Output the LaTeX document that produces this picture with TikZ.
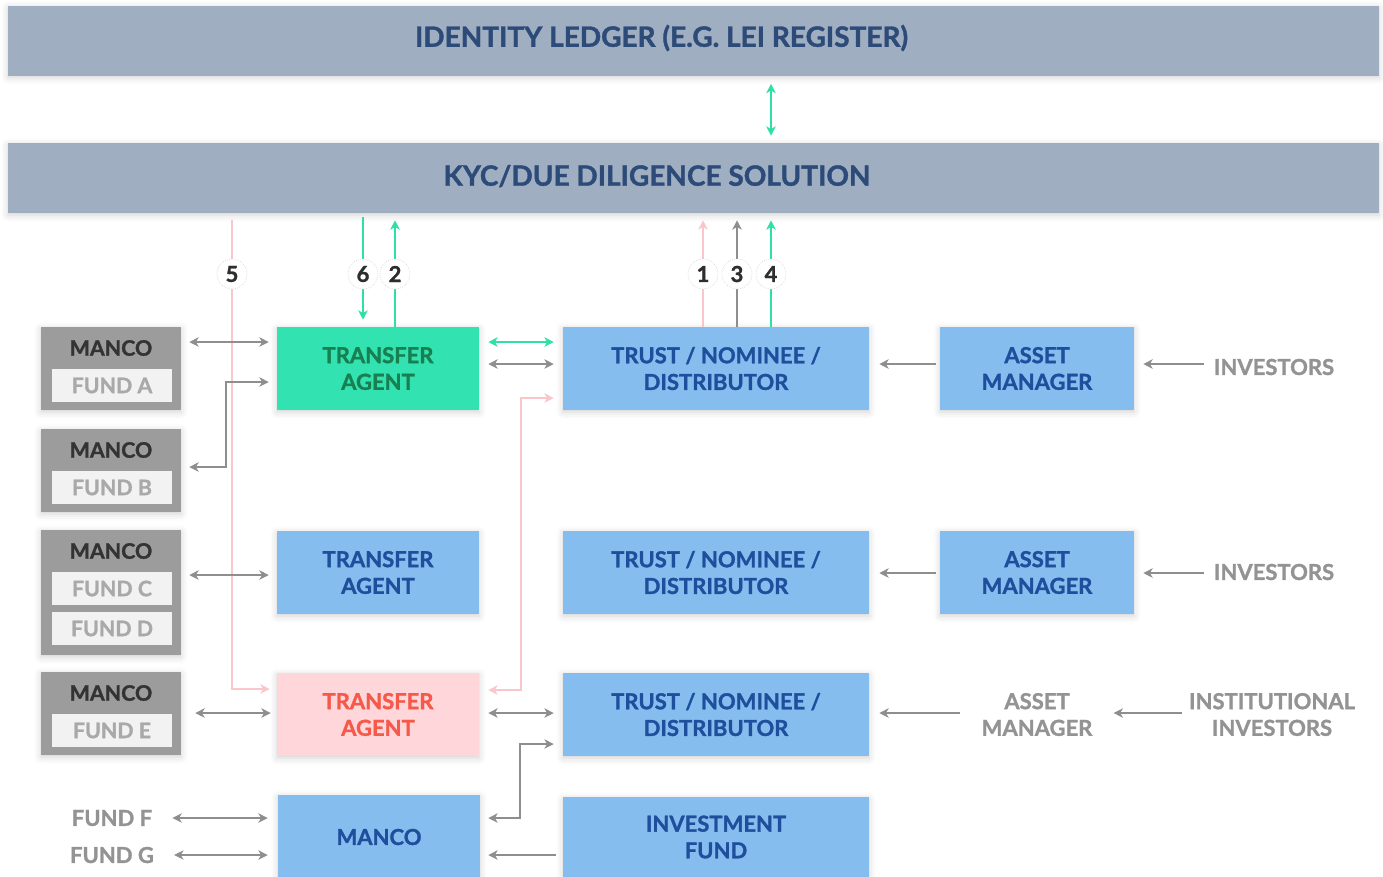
\documentclass[tikz,border=0pt]{standalone}
\usepackage{fontspec}
\setmainfont{Lato}[BoldFeatures={FakeBold=1.3}]
\usetikzlibrary{arrows.meta,calc,shadows.blur}

\newcommand\pxu{0.75pt}

\definecolor{ledgerfill}{HTML}{A0AEC2}
\definecolor{ledgertext}{HTML}{2D4B78}
\definecolor{mint}{HTML}{33E2B1}
\definecolor{minttext}{HTML}{187F50}
\definecolor{bluefill}{HTML}{85BDEE}
\definecolor{bluetext}{HTML}{1D4F9C}
\definecolor{pinkfill}{HTML}{FFD6D9}
\definecolor{pinktext}{HTML}{F5594A}
\definecolor{grayfill}{HTML}{9C9C9C}
\definecolor{grayinner}{HTML}{F2F2F2}
\definecolor{fundtext}{HTML}{A9A9A9}
\definecolor{mancotext}{HTML}{333333}
\definecolor{sidetext}{HTML}{939393}
\definecolor{numtext}{HTML}{2E2E2E}
\definecolor{arrgray}{HTML}{8E8E8E}
\definecolor{arrgreen}{HTML}{2EE0A6}
\definecolor{arrpink}{HTML}{F9C6CA}

\begin{document}
\begin{tikzpicture}[x=0.75pt,y=-0.75pt,
  >={Stealth[length=7pt,width=7pt,inset=2pt]},
  glow/.style={blur shadow={shadow xshift=0pt,shadow yshift=-1.5pt,shadow blur radius=5pt,shadow opacity=18}},
  plate/.style={rectangle, inner sep=0pt, draw=none},
  bar/.style={plate, glow, fill=ledgerfill, minimum width=1371*\pxu, minimum height=70*\pxu},
  bartext/.style={inner sep=0pt, font=\bfseries\fontsize{21}{25}\selectfont, text=ledgertext},
  tbox/.style={plate, glow, align=center, font=\bfseries\fontsize{16.5}{20}\selectfont, minimum height=83*\pxu},
  mintbox/.style={tbox, fill=mint, text=minttext},
  bluebox/.style={tbox, fill=bluefill, text=bluetext},
  pinkbox/.style={tbox, fill=pinkfill, text=pinktext},
  mancobox/.style={plate, glow, fill=grayfill, minimum width=140*\pxu},
  fundbox/.style={plate, fill=grayinner, text=fundtext, minimum width=120*\pxu, minimum height=33*\pxu, font=\bfseries\fontsize{16}{19}\selectfont},
  mancolabel/.style={inner sep=0pt, text=mancotext, font=\bfseries\fontsize{16}{19}\selectfont},
  side/.style={inner sep=0pt, text=sidetext, align=center, font=\bfseries\fontsize{16.5}{20}\selectfont},
  numc/.style={circle, fill=white, draw=black!18, densely dotted, line width=0.5pt, minimum size=30*\pxu, inner sep=0pt, text=numtext, font=\bfseries\fontsize{16.5}{18}\selectfont},
  garr/.style={draw=arrgray, line width=1.5pt},
  marr/.style={draw=arrgreen, line width=1.5pt},
  parr/.style={draw=arrpink, line width=1.5pt},
]
\useasboundingbox (0,0) rectangle (1383,876);

% shared ledger and KYC layers
\node[bar] (ledger) at (693.5,40.5) {};
\node[bartext] (ledgerT) at (661.5,38) {IDENTITY LEDGER (E.G. LEI REGISTER)};
\node[bar] (kyc) at (693.5,178) {};
\node[bartext] (kycT) at (657,176) {KYC/DUE DILIGENCE SOLUTION};

% management companies with their funds
\node[mancobox, minimum height=83*\pxu] (mA) at (111,368.5) {};
\node[mancolabel] (mAl) at (111,348) {MANCO};
\node[fundbox] (fA) at (112,385.5) {FUND A};
\node[mancobox, minimum height=83*\pxu] (mB) at (111,470.5) {};
\node[mancolabel] (mBl) at (111,450) {MANCO};
\node[fundbox] (fB) at (112,487.5) {FUND B};
\node[mancobox, minimum height=125*\pxu] (mCD) at (111,592.5) {};
\node[mancolabel] (mCDl) at (111,551) {MANCO};
\node[fundbox] (fC) at (112,588.5) {FUND C};
\node[fundbox] (fD) at (112,628.5) {FUND D};
\node[mancobox, minimum height=83*\pxu] (mE) at (111,713.5) {};
\node[mancolabel] (mEl) at (111,693) {MANCO};
\node[fundbox] (fE) at (112,730.5) {FUND E};
\node[side] (fF) at (112,818) {FUND F};
\node[side] (fG) at (112,855) {FUND G};

% transfer agents and manco
\node[mintbox, minimum width=202*\pxu] (ta1) at (378,368.5) {TRANSFER\\AGENT};
\node[bluebox, minimum width=202*\pxu] (ta2) at (378,572.5) {TRANSFER\\AGENT};
\node[pinkbox, minimum width=202*\pxu] (ta3) at (378,714.5) {TRANSFER\\AGENT};
\node[bluebox, minimum width=202*\pxu, minimum height=84*\pxu] (mco) at (379,837) {MANCO};

% distributors and fund
\node[bluebox, minimum width=306*\pxu] (tr1) at (716,368.5) {TRUST / NOMINEE /\\DISTRIBUTOR};
\node[bluebox, minimum width=306*\pxu] (tr2) at (716,572.5) {TRUST / NOMINEE /\\DISTRIBUTOR};
\node[bluebox, minimum width=306*\pxu] (tr3) at (716,714.5) {TRUST / NOMINEE /\\DISTRIBUTOR};
\node[bluebox, minimum width=306*\pxu, minimum height=80*\pxu] (inv) at (716,837) {INVESTMENT\\FUND};

% asset managers and investors
\node[bluebox, minimum width=194*\pxu] (am1) at (1037,368.5) {ASSET\\MANAGER};
\node[bluebox, minimum width=194*\pxu] (am2) at (1037,572.5) {ASSET\\MANAGER};
\node[side] (am3) at (1037,714.5) {ASSET\\MANAGER};
\node[side] (in1) at (1274,367) {INVESTORS};
\node[side] (in2) at (1274,572) {INVESTORS};
\node[side] (in3) at (1272,714.5) {INSTITUTIONAL\\INVESTORS};

% step markers
\coordinate (p5) at (232,274);
\coordinate (p6) at (363,274);
\coordinate (p2) at (395,274);
\coordinate (p1) at (703,274);
\coordinate (p3) at (737,274);
\coordinate (p4) at (771,274);

% pink flows
\draw[parr,->,shorten <=7*\pxu,shorten >=7*\pxu] (p5 |- kyc.south) |- (ta3.west |- 0,689);
\draw[parr,<->,shorten <=9*\pxu,shorten >=9*\pxu] (tr1.west |- 0,398) -| (521,690) -- (ta3.east |- 0,690);
\draw[parr,->,shorten >=7*\pxu] (p1 |- tr1.north) -- (p1 |- kyc.south);

% green flows
\draw[marr,<->,shorten <=8*\pxu,shorten >=7*\pxu] (p4 |- ledger.south) -- (p4 |- kyc.north);
\draw[marr,->,shorten <=4*\pxu,shorten >=7*\pxu] (p6 |- kyc.south) -- (p6 |- ta1.north);
\draw[marr,->,shorten >=7*\pxu] (p2 |- ta1.north) -- (p2 |- kyc.south);
\draw[marr,->,shorten >=7*\pxu] (p4 |- tr1.north) -- (p4 |- kyc.south);
\draw[marr,<->,shorten <=9*\pxu,shorten >=9*\pxu] (ta1.east |- 0,342) -- (tr1.west |- 0,342);

% grey flows
\draw[garr,->,shorten >=7*\pxu] (p3 |- tr1.north) -- (p3 |- kyc.south);
\draw[garr,<->,shorten <=8*\pxu,shorten >=8*\pxu] (mA.east |- 0,342) -- (ta1.west |- 0,342);
\draw[garr,<->,shorten <=8*\pxu,shorten >=8*\pxu] (mB.east |- 0,467) -| (226,382) -- (ta1.west |- 0,382);
\draw[garr,<->,shorten <=8*\pxu,shorten >=8*\pxu] (mCD.east |- 0,575) -- (ta2.west |- 0,575);
\draw[garr,<->,shorten <=14*\pxu,shorten >=6*\pxu] (mE.east |- 0,713) -- (ta3.west |- 0,713);
\draw[garr,<->,shorten <=20*\pxu,shorten >=10*\pxu] (fF.east) -- (mco.west |- fF.east);
\draw[garr,<->,shorten <=20*\pxu,shorten >=10*\pxu] (fG.east) -- (mco.west |- fG.east);
\draw[garr,<->,shorten <=9*\pxu,shorten >=9*\pxu] (ta1.east |- 0,364) -- (tr1.west |- 0,364);
\draw[garr,<->,shorten <=9*\pxu,shorten >=9*\pxu] (ta3.east |- 0,713) -- (tr3.west |- 0,713);
\draw[garr,<->,shorten <=8*\pxu,shorten >=9*\pxu] (mco.east |- 0,818) -| (520,744) -- (tr3.west |- 0,744);
\draw[garr,->,shorten <=7*\pxu,shorten >=8*\pxu] (inv.west |- 0,855) -- (mco.east |- 0,855);
\draw[garr,->,shorten <=4*\pxu,shorten >=10*\pxu] (am1.west |- 0,364) -- (tr1.east |- 0,364);
\draw[garr,->,shorten <=10*\pxu,shorten >=9*\pxu] (in1.west |- 0,364) -- (am1.east |- 0,364);
\draw[garr,->,shorten <=4*\pxu,shorten >=10*\pxu] (am2.west |- 0,573) -- (tr2.east |- 0,573);
\draw[garr,->,shorten <=10*\pxu,shorten >=9*\pxu] (in2.west |- 0,573) -- (am2.east |- 0,573);
\draw[garr,->,shorten <=21*\pxu,shorten >=10*\pxu] (am3.west |- 0,713) -- (tr3.east |- 0,713);
\draw[garr,->,shorten <=7*\pxu,shorten >=21*\pxu] (in3.west |- 0,713) -- (am3.east |- 0,713);

% numbered markers on top of the flows
\node[numc] (c5) at (p5) {5};
\node[numc] (c6) at (p6) {6};
\node[numc] (c2) at (p2) {2};
\node[numc] (c1) at (p1) {1};
\node[numc] (c3) at (p3) {3};
\node[numc] (c4) at (p4) {4};
\end{tikzpicture}
\end{document}
